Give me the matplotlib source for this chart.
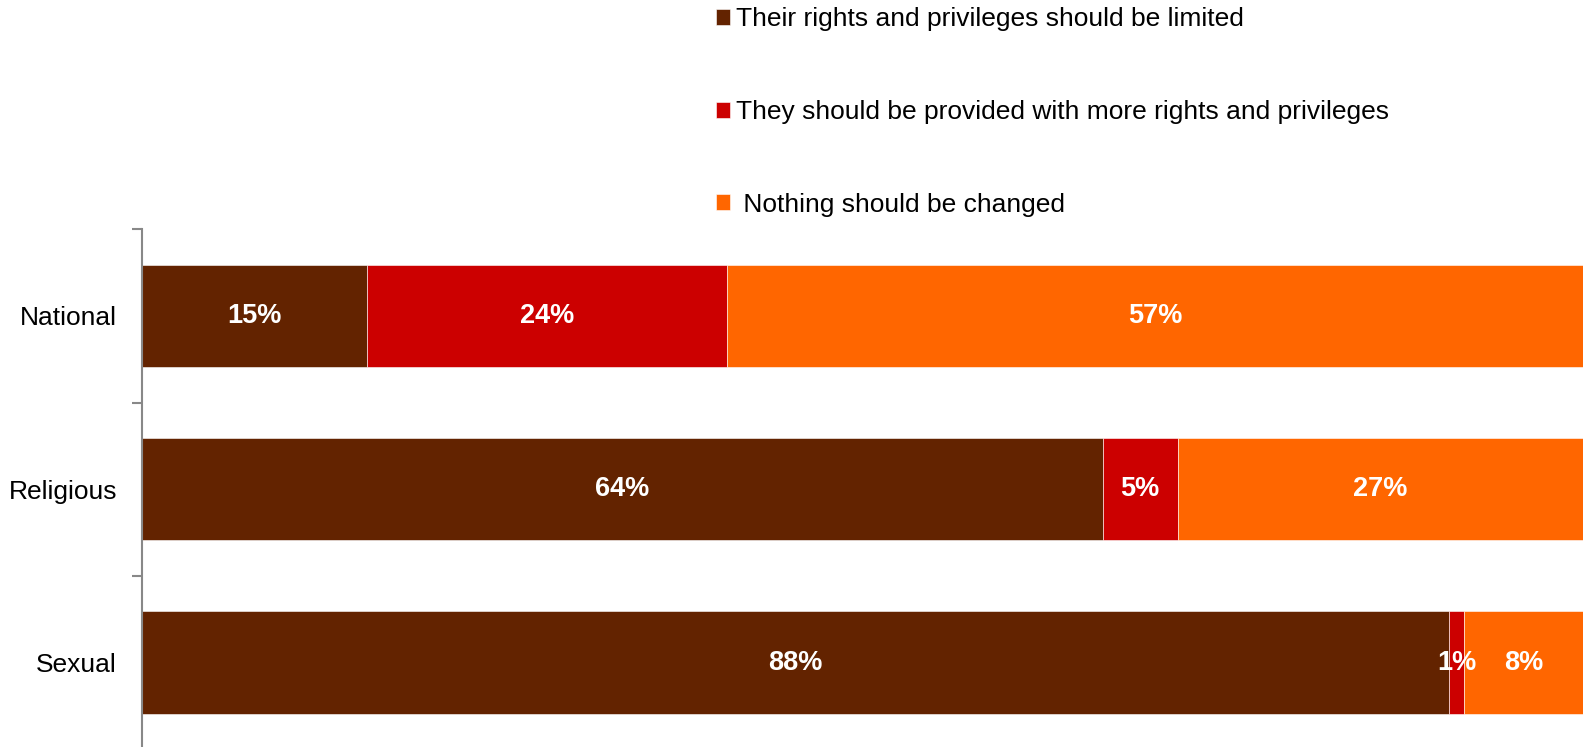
import matplotlib
matplotlib.use("Agg")
import matplotlib.pyplot as plt
import numpy as np

plt.rcParams["font.family"] = ["Liberation Sans", "DejaVu Sans"]

categories = ["National", "Religious", "Sexual"]
series_names = [
    "Their rights and privileges should be limited",
    "They should be provided with more rights and privileges",
    " Nothing should be changed",
]
limited = [15, 64, 88]
more_rights = [24, 5, 1]
no_change = [57, 27, 8]
colors = ["#632300", "#CC0000", "#FF6600"]

series = np.array([limited, more_rights, no_change], dtype=float)
# stacked to 100% of the answers shown
shares = series / series.sum(axis=0)

fig = plt.figure(figsize=(15.88, 7.47), dpi=100)
ax = fig.add_axes([142 / 1588, -0.003, 1441 / 1588, 0.696])

y = np.arange(len(categories))
left = np.zeros(len(categories))
for name, share, vals, col in zip(series_names, shares, series, colors):
    ax.barh(y, share, left=left, height=0.59, color=col, label=name,
            edgecolor="white", linewidth=0.4)
    for yi, l, s, v in zip(y, left, share, vals):
        ax.text(l + s / 2, yi, f"{v:.0f}%", ha="center", va="center",
                color="white", fontsize=19.5, fontweight="bold")
    left += share

ax.set_xlim(0, 1)
ax.set_ylim(len(categories) - 0.5, -0.5)
ax.set_yticks(y)
ax.set_yticklabels(categories, fontsize=19)
ax.tick_params(axis="y", which="major", length=0, pad=18)
ax.set_yticks(np.arange(-0.5, len(categories), 1), minor=True)
ax.tick_params(axis="y", which="minor", length=7, width=1.5, color="#888888")
ax.set_xticks([])
for side in ["top", "right", "bottom"]:
    ax.spines[side].set_visible(False)
ax.spines["left"].set_color("#888888")
ax.spines["left"].set_linewidth(1.5)

fig.legend(loc="upper left", bbox_to_anchor=(692 / 1588, 1.022), frameon=False,
           fontsize=19, handlelength=0.55, handleheight=0.55, handletextpad=0.2,
           labelspacing=2.6)

fig.savefig("out.png", dpi=100)
